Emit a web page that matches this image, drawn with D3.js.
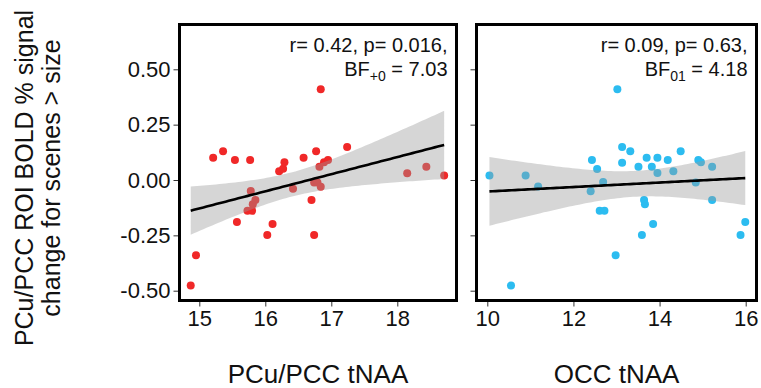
<!DOCTYPE html>
<html>
<head>
<meta charset="utf-8">
<script src="https://cdn.jsdelivr.net/npm/d3@7"></script>
<style>
  html, body { margin: 0; padding: 0; background: #fff; }
  svg { display: block; font-family: "Liberation Sans", Arial, sans-serif; }
</style>
</head>
<body>
<svg id="chart" width="761" height="388"></svg>
<script>
// ---- data ----
const pccX = [14.87,14.95,15.21,15.36,15.54,15.77,15.78,15.57,15.73,15.80,15.81,15.85,16.03,16.11,16.21,16.27,16.29,16.42,16.58,16.70,16.74,16.74,16.77,16.79,16.82,16.84,16.84,16.89,16.95,17.24,18.15,18.44,18.71];
const pccY = [-0.477,-0.340,0.101,0.130,0.090,0.090,-0.050,-0.190,-0.139,-0.139,-0.110,-0.090,-0.248,-0.199,0.039,0.051,0.080,-0.039,0.101,-0.090,-0.248,-0.011,0.130,-0.011,0.060,-0.030,0.410,0.080,0.090,0.149,0.030,0.060,0.020];
const occX = [10.05,10.55,10.89,11.18,12.40,12.43,12.55,12.61,12.72,12.69,12.98,13.02,13.13,13.13,13.32,13.51,13.59,13.64,13.66,13.70,13.82,13.85,13.95,13.95,14.19,14.32,14.49,14.84,14.90,14.96,15.22,15.22,15.88,15.99];
const occY = [0.020,-0.477,0.020,-0.029,-0.051,0.090,0.050,-0.139,-0.139,-0.009,-0.340,0.410,0.078,0.149,0.130,0.060,-0.248,-0.090,-0.110,0.101,0.060,-0.199,0.101,0.032,0.090,0.039,0.130,-0.011,0.090,0.080,0.060,-0.090,-0.248,-0.190];
const yTicks = [-0.50,-0.25,0.00,0.25,0.50];
const pccTicks = [15,16,17,18];
const occTicks = [10,12,14,16];
const xTitles = ["PCu/PCC tNAA","OCC tNAA"];
const yTitleLines = ["PCu/PCC ROI BOLD % signal","change for scenes > size"];
const statLine1 = ["r= 0.42, p= 0.016,","r= 0.09, p= 0.63,"];
const bfSub = ["+0","01"];
const bfVal = [" = 7.03"," = 4.18"];
const pointColors = ["#f02828","#2cbcf0"];

// ---- layout ----
const svg = d3.select("#chart");
const y = d3.scaleLinear().domain([-0.5, 0.5]).range([290.7, 69.3]);
const panels = [
  {x0:179.5, x1:456.5, xs:d3.scaleLinear().domain([15,18]).range([199.3,397.3]), X:pccX, Y:pccY, ticks:pccTicks},
  {x0:476.5, x1:756.5, xs:d3.scaleLinear().domain([10,16]).range([487.3,745.7]), X:occX, Y:occY, ticks:occTicks}
];
const panelTop = 24.5, panelBottom = 300.5;
const tCrit = 2.04;

function fit(X, Y) {
  const n = X.length;
  const mx = d3.mean(X), my = d3.mean(Y);
  let sxx = 0, sxy = 0;
  for (let i = 0; i < n; i++) { sxx += (X[i]-mx)**2; sxy += (X[i]-mx)*(Y[i]-my); }
  const b = sxy / sxx, a = my - b*mx;
  let sse = 0;
  for (let i = 0; i < n; i++) sse += (Y[i] - a - b*X[i])**2;
  const s = Math.sqrt(sse/(n-2));
  const [lo, hi] = d3.extent(X);
  const grid = d3.range(0, 81).map(k => lo + (hi-lo)*k/80);
  return grid.map(x => {
    const f = a + b*x;
    const se = s*Math.sqrt(1/n + (x-mx)**2/sxx);
    return {x, f, l: f - tCrit*se, u: f + tCrit*se};
  });
}

panels.forEach((p, i) => {
  const g = svg.append("g");
  const clipId = "clip" + i;
  svg.append("clipPath").attr("id", clipId).append("rect")
    .attr("x", p.x0).attr("y", panelTop).attr("width", p.x1-p.x0).attr("height", panelBottom-panelTop);

  const inner = g.append("g").attr("clip-path", `url(#${clipId})`);
  inner.selectAll("circle").data(p.X.map((x, k) => [x, p.Y[k]])).join("circle")
    .attr("cx", d => p.xs(d[0])).attr("cy", d => y(d[1])).attr("r", 4)
    .attr("fill", pointColors[i]);
  const fd = fit(p.X, p.Y);
  inner.append("path").datum(fd)
    .attr("d", d3.area().x(d => p.xs(d.x)).y0(d => y(d.l)).y1(d => y(d.u)))
    .attr("fill", "#999").attr("fill-opacity", 0.4);
  inner.append("path").datum(fd)
    .attr("d", d3.line().x(d => p.xs(d.x)).y(d => y(d.f)))
    .attr("fill", "none").attr("stroke", "#000").attr("stroke-width", 2.6);

  const xa = g.append("g").attr("transform", `translate(0,${panelBottom+1})`)
    .call(d3.axisBottom(p.xs).tickValues(p.ticks).tickFormat(d3.format("d")).tickSize(5).tickPadding(4));
  xa.select(".domain").remove();
  xa.selectAll("line").attr("stroke", "#333");
  xa.selectAll("text").attr("font-size", 22).attr("fill", "#111").attr("font-family", "Liberation Sans, Arial, sans-serif");

  const ya = g.append("g").attr("transform", `translate(${p.x0-1},0)`)
    .call(d3.axisLeft(y).tickValues(yTicks).tickSize(5).tickPadding(3));
  ya.select(".domain").remove();
  ya.selectAll("line").attr("stroke", "#333");
  ya.selectAll("text").attr("font-size", 22).attr("fill", "#111").attr("font-family", "Liberation Sans, Arial, sans-serif")
    .text(d => i === 0 ? d3.format(".2f")(d).replace("\u2212", "-") : "");

  g.append("rect").attr("x", p.x0).attr("y", panelTop).attr("width", p.x1-p.x0).attr("height", panelBottom-panelTop)
    .attr("fill", "none").attr("stroke", "#000").attr("stroke-width", 3);

  const ax = p.x1 - 9;
  g.append("text").attr("x", ax).attr("y", 52).attr("text-anchor", "end")
    .attr("font-size", 20).attr("fill", "#111").text(statLine1[i]);
  const t2 = g.append("text").attr("x", ax).attr("y", 76).attr("text-anchor", "end")
    .attr("font-size", 20).attr("fill", "#111");
  t2.append("tspan").text("BF");
  t2.append("tspan").attr("font-size", 14).attr("dy", 5).text(bfSub[i]);
  t2.append("tspan").attr("dy", -5).text(bfVal[i]);

  svg.append("text").attr("x", (p.x0+p.x1)/2).attr("y", 383).attr("text-anchor", "middle")
    .attr("font-size", 26).attr("fill", "#111").text(xTitles[i]);
});

const yt = svg.append("text").attr("transform", "translate(0,178) rotate(-90)")
  .attr("text-anchor", "middle").attr("font-size", 25).attr("fill", "#111");
yt.append("tspan").attr("x", 0).attr("y", 33).text(yTitleLines[0]);
yt.append("tspan").attr("x", 0).attr("y", 60).text(yTitleLines[1]);
</script>
</body>
</html>
